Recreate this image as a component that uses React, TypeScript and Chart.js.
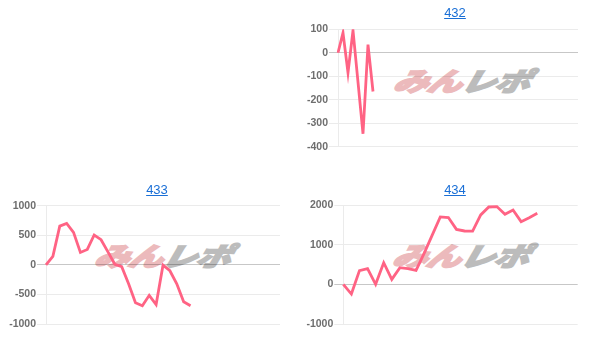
import React, { useEffect, useRef } from "react";
import { Chart, registerables } from "chart.js";

Chart.register(...registerables);

// ---- data ----
const titles = ["432", "433", "434"];

const labels432: string[] = Array.from({ length: 49 }, (_, i) => String(i + 1));
const labels433: string[] = Array.from({ length: 35 }, (_, i) => String(i + 1));
const labels434: string[] = Array.from({ length: 30 }, (_, i) => String(i + 1));

const values432 = [0, 85, -85, 95, -125, -345, 35, -165];
const values433 = [0, 145, 655, 700, 550, 210, 260, 505, 425, 220, 10, -30, -320, -640, -690, -515, -670, -5, -100, -320, -625, -690];
const values434 = [0, -245, 345, 395, 0, 545, 125, 420, 395, 350, 780, 1240, 1700, 1685, 1385, 1345, 1340, 1750, 1950, 1960, 1765, 1875, 1580, 1680, 1790];

const yTicks432 = { min: -400, max: 100, step: 100 };
const yTicks433 = { min: -1000, max: 1000, step: 500 };
const yTicks434 = { min: -1000, max: 2000, step: 1000 };

const LINE = "rgb(255, 99, 132)";
const FONT = "'Liberation Sans', Arial, sans-serif";

type Props = {
  title: string;
  labels: string[];
  values: number[];
  yt: { min: number; max: number; step: number };
  left: number;
  top: number;
  width: number;
  height: number;
  axisWidth: number;
  pad: { top: number; right: number; bottom: number };
  titleX: number;
  titleY: number;
  wmX: number;
  wmY: number;
};

function MiniChart(p: Props) {
  const ref = useRef<HTMLCanvasElement | null>(null);
  useEffect(() => {
    if (!ref.current) return;
    const chart = new Chart(ref.current, {
      type: "line",
      data: {
        labels: p.labels,
        datasets: [
          {
            data: p.values,
            borderColor: LINE,
            backgroundColor: LINE,
            borderWidth: 2.8,
            pointRadius: 0,
            tension: 0,
            fill: false,
          },
        ],
      },
      options: {
        animation: false,
        responsive: false,
        maintainAspectRatio: false,
        layout: { padding: { left: 0, top: p.pad.top, right: p.pad.right, bottom: p.pad.bottom } },
        plugins: { legend: { display: false }, tooltip: { enabled: false }, title: { display: false } },
        scales: {
          x: {
            ticks: { display: false },
            grid: { display: false, drawTicks: false },
            border: { display: false },
          },
          y: {
            min: p.yt.min,
            max: p.yt.max,
            ticks: {
              stepSize: p.yt.step,
              color: "#6e6e6e",
              padding: 1,
              font: { family: FONT, size: 10.5, weight: "bold" },
              callback: (v: any) => String(v),
            },
            grid: {
              tickLength: 9,
              color: (ctx: any) =>
                ctx.tick && ctx.tick.value === 0 ? "rgba(0,0,0,0.22)" : "rgba(0,0,0,0.08)",
            },
            border: { display: true, color: "rgba(0,0,0,0.08)" },
            afterFit: (scale: any) => {
              scale.width = p.axisWidth;
            },
          },
        },
      },
    });
    return () => chart.destroy();
  }, []);

  return (
    <>
      <div
        style={{
          position: "absolute",
          left: p.wmX,
          top: p.wmY,
          fontFamily: "'Noto Sans CJK JP', sans-serif",
          fontWeight: 900,
          fontSize: 26,
          lineHeight: "26px",
          fontStyle: "italic",
          transform: "skewX(-14deg) scaleX(1.35)",
          transformOrigin: "left top",
          whiteSpace: "nowrap",
          letterSpacing: "-1px",
          zIndex: 0,
        }}
      >
        <span style={{ color: "rgb(236,186,188)", WebkitTextStroke: "1.6px rgb(236,186,188)" }}>みん</span>
        <span style={{ color: "rgb(188,188,188)", WebkitTextStroke: "1.6px rgb(188,188,188)" }}>レポ</span>
      </div>
      <canvas
        ref={ref}
        width={p.width}
        height={p.height}
        style={{ position: "absolute", left: p.left, top: p.top, width: p.width, height: p.height, zIndex: 1 }}
      />
      <div
        style={{
          position: "absolute",
          left: p.titleX - 50,
          top: p.titleY - 8,
          width: 100,
          textAlign: "center",
          fontFamily: FONT,
          fontSize: 13,
          lineHeight: "16px",
          zIndex: 2,
        }}
      >
        <a href="#" style={{ color: "#1a6fd6", textDecoration: "underline" }}>
          {p.title}
        </a>
      </div>
    </>
  );
}

export default function App() {
  return (
    <div style={{ position: "absolute", left: 0, top: 0, width: 608, height: 348, background: "#fff", overflow: "hidden" }}>
      <MiniChart
        title={titles[0]}
        labels={labels432}
        values={values432}
        yt={yTicks432}
        left={300}
        top={20}
        width={290}
        height={140}
        axisWidth={38}
        pad={{ top: 9.3, right: 12, bottom: 13.3 }}
        titleX={455}
        titleY={13}
        wmX={398}
        wmY={67}
      />
      <MiniChart
        title={titles[1]}
        labels={labels433}
        values={values433}
        yt={yTicks433}
        left={8}
        top={195}
        width={290}
        height={140}
        axisWidth={38}
        pad={{ top: 10.7, right: 18, bottom: 11 }}
        titleX={157}
        titleY={190}
        wmX={99}
        wmY={242}
      />
      <MiniChart
        title={titles[2]}
        labels={labels434}
        values={values434}
        yt={yTicks434}
        left={305}
        top={195}
        width={290}
        height={140}
        axisWidth={38.3}
        pad={{ top: 10, right: 17.3, bottom: 11 }}
        titleX={455}
        titleY={190}
        wmX={397}
        wmY={242}
      />
    </div>
  );
}
